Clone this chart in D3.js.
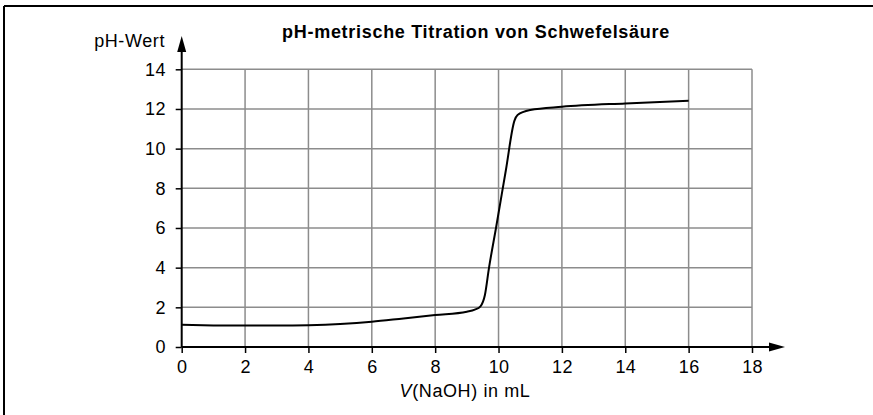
<!DOCTYPE html>
<html>
<head>
<meta charset="utf-8">
<script src="https://cdn.jsdelivr.net/npm/d3@7"></script>
<style>
  body { margin: 0; background: #fff; }
  text { font-family: "Liberation Sans", Arial, sans-serif; }
</style>
</head>
<body>
<div id="chart"></div>
<script>
// titration curve
const volume = [0, 1, 2, 3, 4, 5, 6, 7, 8, 9, 9.25, 9.43, 9.57, 9.7, 9.92, 10.23, 10.5, 10.6, 11, 12, 14, 16];
const ph = [1.12, 1.09, 1.08, 1.08, 1.1, 1.16, 1.27, 1.44, 1.61, 1.78, 1.88, 2.05, 2.62, 4.0, 6.0, 8.9, 11.4, 11.7, 11.95, 12.11, 12.28, 12.41];
const xTicks = [0, 2, 4, 6, 8, 10, 12, 14, 16, 18];
const yTicks = [0, 2, 4, 6, 8, 10, 12, 14];

const width = 873, height = 415;
const x = d3.scaleLinear().domain([0, 18]).range([181.7, 752]);
const y = d3.scaleLinear().domain([0, 14]).range([347, 69.3]);

const svg = d3.select("#chart").append("svg")
  .attr("width", width)
  .attr("height", height);

// frame (top and left only)
svg.append("line").attr("x1", 4).attr("x2", width).attr("y1", 6).attr("y2", 6)
  .style("stroke", "#000").style("stroke-width", 2);
svg.append("line").attr("x1", 4).attr("x2", 4).attr("y1", 6).attr("y2", height)
  .style("stroke", "#000").style("stroke-width", 2);

// grid
svg.append("g").selectAll("line")
  .data(xTicks.slice(1))
  .enter().append("line")
  .attr("x1", d => x(d)).attr("x2", d => x(d))
  .attr("y1", y(0)).attr("y2", y(14))
  .style("stroke", "#8c8c8c").style("stroke-width", 1.5);
svg.append("g").selectAll("line")
  .data(yTicks.slice(1))
  .enter().append("line")
  .attr("x1", x(0)).attr("x2", x(18))
  .attr("y1", d => y(d)).attr("y2", d => y(d))
  .style("stroke", "#8c8c8c").style("stroke-width", 1.5);

// axes
const xAxis = svg.append("g")
  .attr("transform", `translate(0,${y(0)})`)
  .call(d3.axisBottom(x).tickValues(xTicks).tickSize(6).tickPadding(7).tickFormat(d3.format("d")));
const yAxis = svg.append("g")
  .attr("transform", `translate(${x(0)},0)`)
  .call(d3.axisLeft(y).tickValues(yTicks).tickSize(6).tickPadding(10).tickFormat(d3.format("d")));

[xAxis, yAxis].forEach(a => {
  a.select(".domain").remove();
  a.selectAll(".tick line").style("stroke", "#000").style("stroke-width", 1.5);
  a.selectAll(".tick text")
    .style("font-family", "'Liberation Sans', Arial, sans-serif")
    .style("font-size", "18px")
    .style("letter-spacing", "0.3px")
    .style("fill", "#000");
});

// axis lines with arrows
svg.append("line").attr("x1", x(0)).attr("x2", 770).attr("y1", y(0)).attr("y2", y(0))
  .style("stroke", "#000").style("stroke-width", 2);
svg.append("path").attr("d", `M769,${y(0) - 4.5}L785,${y(0)}L769,${y(0) + 4.5}Z`).style("fill", "#000");
svg.append("line").attr("x1", x(0)).attr("x2", x(0)).attr("y1", y(0)).attr("y2", 51)
  .style("stroke", "#000").style("stroke-width", 2);
svg.append("path").attr("d", `M${x(0) - 4.5},52L${x(0)},36L${x(0) + 4.5},52Z`).style("fill", "#000");

// curve
const points = volume.map((v, i) => [v, ph[i]]);
svg.append("path")
  .datum(points)
  .attr("d", d3.line().x(d => x(d[0])).y(d => y(d[1])).curve(d3.curveMonotoneX))
  .style("fill", "none")
  .style("stroke", "#000")
  .style("stroke-width", 2);

// labels
svg.append("text")
  .attr("x", 476).attr("y", 38)
  .style("text-anchor", "middle")
  .style("font-size", "18px")
  .style("letter-spacing", "0.7px")
  .style("font-weight", "bold")
  .text("pH-metrische Titration von Schwefelsäure");

svg.append("text")
  .attr("x", 165).attr("y", 47)
  .style("text-anchor", "end")
  .style("font-size", "18px")
  .style("letter-spacing", "0.6px")
  .text("pH-Wert");

const xl = svg.append("text")
  .attr("x", 465).attr("y", 397)
  .style("text-anchor", "middle")
  .style("font-size", "18px")
  .style("letter-spacing", "0.6px");
xl.append("tspan").style("font-style", "italic").text("V");
xl.append("tspan").text("(NaOH) in mL");
</script>
</body>
</html>
